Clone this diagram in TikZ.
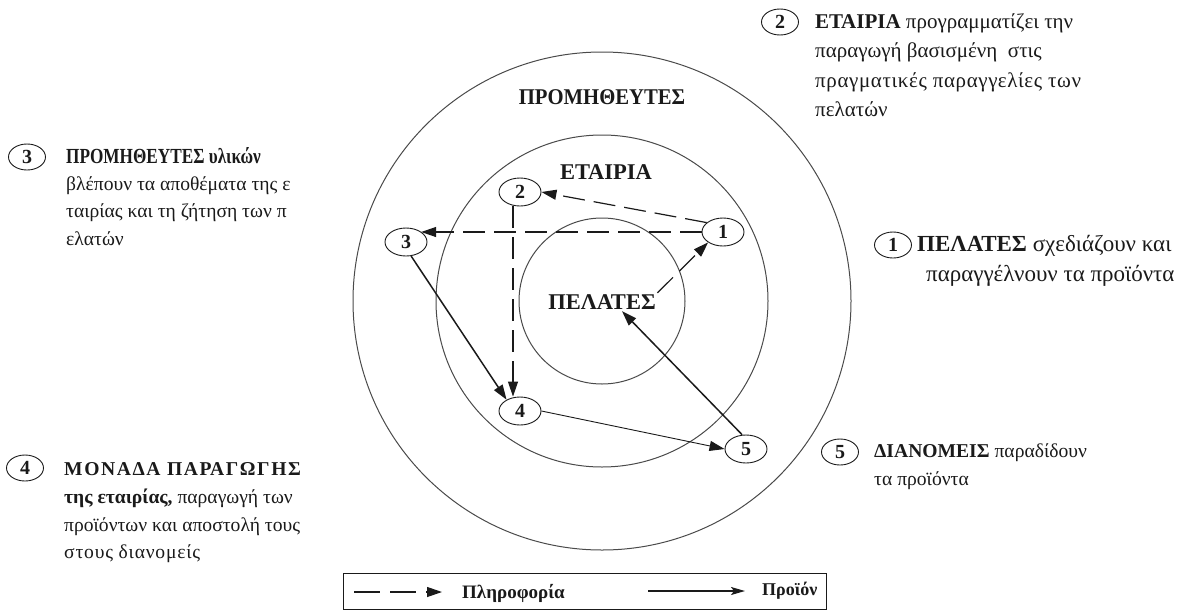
\documentclass[tikz,border=0pt]{standalone}
\usepackage{fontspec}
\setmainfont{Liberation Serif}
\newfontfamily\spacedfont{Liberation Serif}[LetterSpace=8]
\newfontfamily\condfont{Liberation Serif}[FakeStretch=0.8]
\newfontfamily\semicondfont{Liberation Serif}[FakeStretch=0.92]
\usetikzlibrary{shapes.geometric,arrows.meta}
\definecolor{ink}{HTML}{1A1A1A}
\definecolor{ring}{HTML}{4A4A4A}
\begin{document}
\begin{tikzpicture}[x=1pt,y=-1pt,
  txt/.style={anchor=base west,inner sep=0pt,text=ink,font=\fontsize{21}{29}\selectfont},
  big txt/.style={txt,font=\fontsize{23}{29}\selectfont},
  small txt/.style={txt,font=\fontsize{19.6}{29}\selectfont},
  num/.style={ellipse,draw=ink,line width=0.9pt,minimum width=42pt,minimum height=28pt,inner sep=0pt,font=\bfseries\fontsize{20}{20}\selectfont,text=ink},
  key/.style={ellipse,draw=ink,line width=0.9pt,minimum width=37pt,minimum height=26pt,inner sep=0pt,font=\bfseries\fontsize{20}{20}\selectfont,text=ink},
  zone/.style={font=\bfseries\fontsize{22.5}{22.5}\selectfont,text=ink,inner sep=1.5pt},
  key label/.style={font=\bfseries\fontsize{19}{19}\selectfont,text=ink,inner sep=0pt,anchor=west},
  info/.style={draw=ink,line width=1.2pt,dash pattern=on 22pt off 9pt,-{Triangle[length=15pt,width=10pt]}},
  goods/.style={draw=ink,line width=1.5pt,-{Triangle[length=15pt,width=10pt]}},
  thin goods/.style={draw=ink,line width=0.9pt,-{Triangle[length=15pt,width=10pt]}},
]
\useasboundingbox (0,0) rectangle (1179,611);

% three nested zones
\coordinate (c) at (602,301);
\draw[ring,line width=1pt] (c) circle[radius=249pt];
\draw[ring,line width=1pt] (c) circle[radius=166pt];
\draw[ring,line width=1pt] (c) circle[radius=83pt];

\node[zone] (sup)  at (602,97)  {\semicondfont ΠΡΟΜΗΘΕΥΤΕΣ};
\node[zone] (comp) at (606,172) {ΕΤΑΙΡΙΑ};
\node[zone] (pel)  at (602,302) {ΠΕΛΑΤΕΣ};

% numbered steps inside the zones
\node[num] (n1) at (723,232) {1};
\node[num] (n2) at (520,192) {2};
\node[num] (n3) at (406,242) {3};
\node[num] (n4) at (520,411) {4};
\node[num] (n5) at (746,449) {5};

% information flow
\draw[info] (n1.150) -- (n2.east);
\draw[info] (n1.west) -- (n3.north east |- n1.west);
\draw[info] ([xshift=-7pt]n2.south) -- ([xshift=-7pt]n4.north);
\draw[info] (pel.north east) -- (n1.215);

% product flow
\draw[goods] (n3.290) -- (n4.140);
\draw[thin goods] (n4.east) -- (n5.west);
\draw[goods] (n5.105) -- ([xshift=20pt]pel.south);

% step descriptions
\node[key] (k2) at (780,22) {2};
\node[txt] (t2a) at (815,28)  {\textbf{ΕΤΑΙΡΙΑ} προγραμματίζει την};
\node[txt] (t2b) at (815,57)  {παραγωγή βασισμένη\ \ στις};
\node[txt] (t2c) at (815,87)  {\addfontfeature{LetterSpace=3}πραγματικές παραγγελίες των};
\node[txt] (t2d) at (815,116) {πελατών};

\node[key] (k3) at (27,157) {3};
\node[small txt] (t3a) at (66,163) {{\fontsize{21.5}{29}\condfont\bfseries ΠΡΟΜΗΘΕΥΤΕΣ υλικών}};
\node[small txt] (t3b) at (66,190) {βλέπουν τα αποθέματα της ε};
\node[small txt] (t3c) at (66,217) {ταιρίας και τη ζήτηση των π};
\node[small txt] (t3d) at (66,245) {ελατών};

\node[key] (k1) at (893,245) {1};
\node[big txt] (t1a) at (917,251) {\textbf{ΠΕΛΑΤΕΣ} σχεδιάζουν και};
\node[big txt] (t1b) at (926,281) {παραγγέλνουν τα προϊόντα};

\node[key] (k5) at (840,452) {5};
\node[small txt] (t5a) at (874,457) {\textbf{ΔΙΑΝΟΜΕΙΣ} παραδίδουν};
\node[small txt] (t5b) at (874,485) {τα προϊόντα};

\node[key] (k4) at (25,468) {4};
\node[small txt] (t4a) at (64,475) {{\spacedfont\bfseries ΜΟΝΑΔΑ ΠΑΡΑΓΩΓΗΣ}};
\node[small txt] (t4b) at (64,503) {\textbf{της εταιρίας,} παραγωγή των};
\node[small txt] (t4c) at (64,531) {προϊόντων και αποστολή τους};
\node[small txt] (t4d) at (64,558) {\addfontfeature{LetterSpace=4}στους διανομείς};

% legend
\node[draw=ink,line width=0.8pt,minimum width=483pt,minimum height=36pt,inner sep=0pt] (legend) at (584.5,591.5) {};
\coordinate (ia) at (354,592);
\coordinate (ib) at (442,592);
\draw[info,dash pattern=on 26pt off 10pt] (ia) -- (ib);
\node[key label] (linfo) at (462,593) {Πληροφορία};
\coordinate (pa) at (648,591);
\coordinate (pb) at (745,591);
\draw[draw=ink,line width=1.5pt,-{Stealth[length=14pt,width=8pt,inset=3pt]}] (pa) -- (pb);
\node[key label,font=\bfseries\fontsize{18}{18}\selectfont] (lgoods) at (762,591) {Προϊόν};
\end{tikzpicture}
\end{document}
